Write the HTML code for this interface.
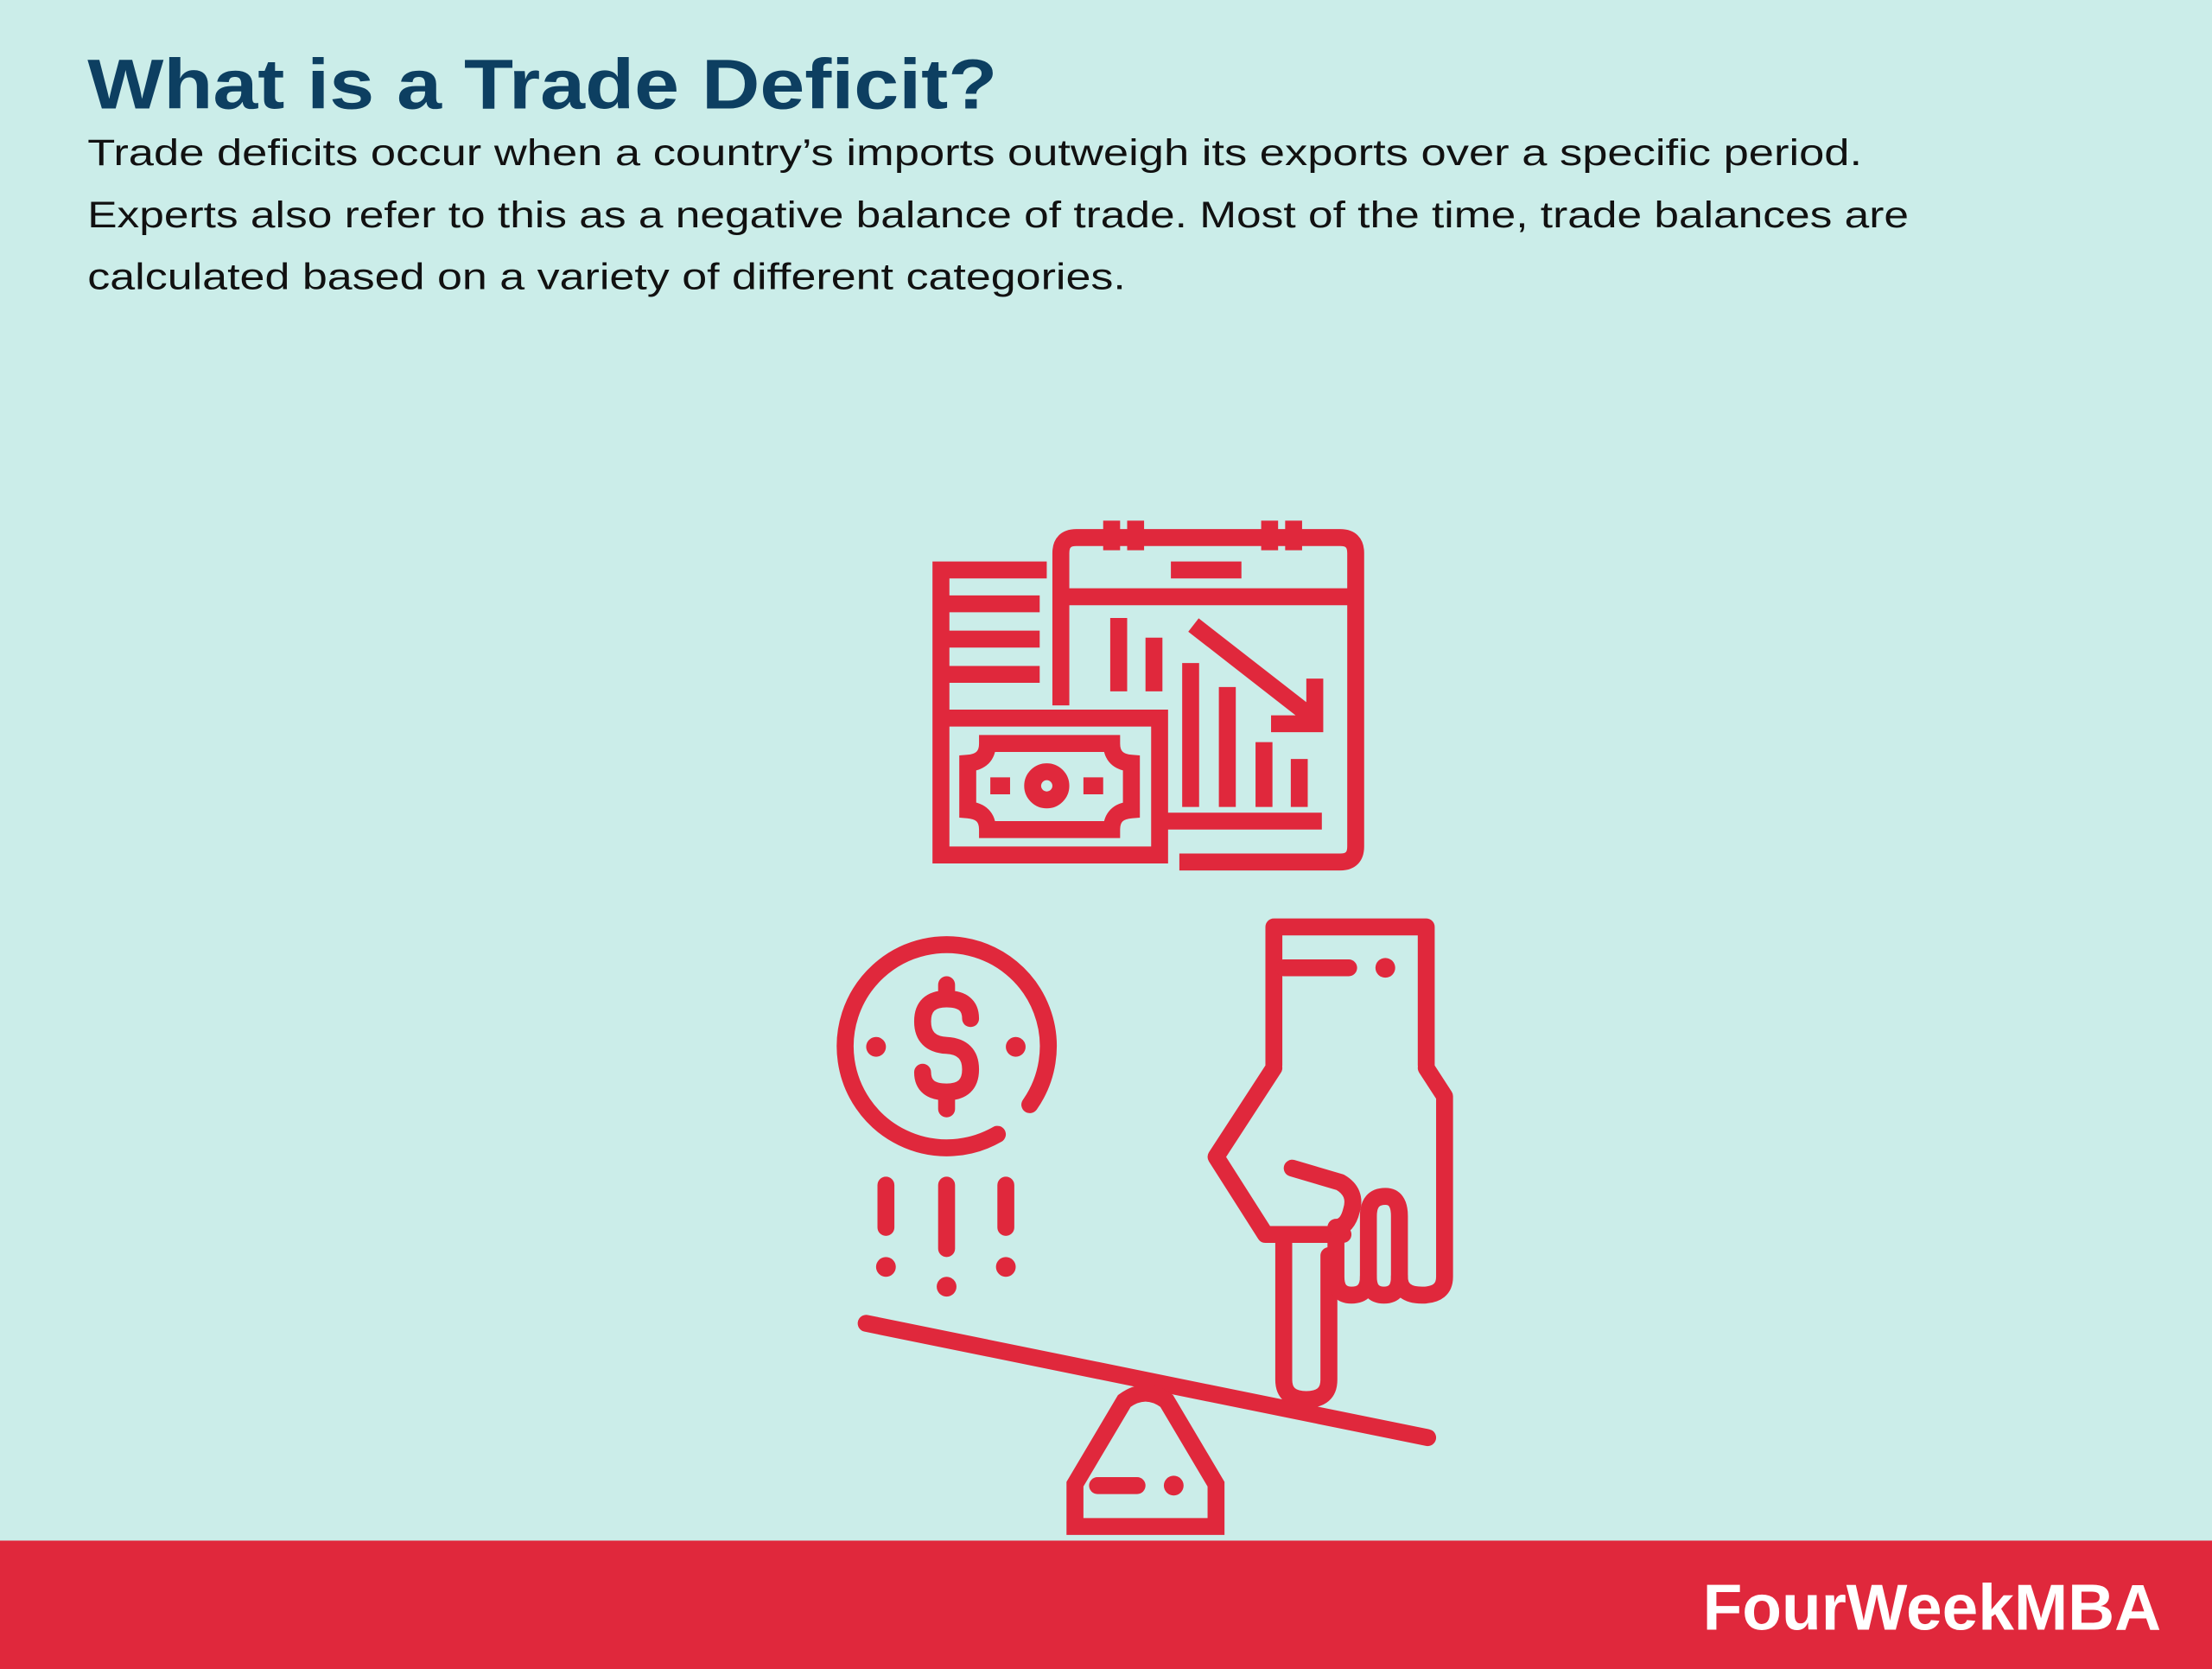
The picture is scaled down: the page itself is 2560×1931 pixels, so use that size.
<!DOCTYPE html>
<html><head><meta charset="utf-8"><style>
html,body{margin:0;padding:0;background:#cbede9;}
svg{display:block}
</style></head><body>
<svg width="2560" height="1931" viewBox="0 0 1568 1183" preserveAspectRatio="none" xmlns="http://www.w3.org/2000/svg">
<rect width="1568" height="1183" fill="#cbede9"/>
<text x="62" y="77" font-family="Liberation Sans, sans-serif" font-weight="bold" font-size="50" fill="#0d3f61" textLength="645" lengthAdjust="spacingAndGlyphs">What is a Trade Deficit?</text>
<g font-family="Liberation Sans, sans-serif" font-size="26" fill="#111">
<text x="62" y="117" textLength="1258" lengthAdjust="spacingAndGlyphs">Trade deficits occur when a country’s imports outweigh its exports over a specific period.</text>
<text x="62" y="161" textLength="1291" lengthAdjust="spacingAndGlyphs">Experts also refer to this as a negative balance of trade. Most of the time, trade balances are</text>
<text x="62" y="205" textLength="736" lengthAdjust="spacingAndGlyphs">calculated based on a variety of different categories.</text>
</g>
<g fill="none" stroke="#e0283c" stroke-width="12">
<g>
<path d="M742 404 H667 V606 H822 V509 H671"/>
<path d="M667 428 H737 M667 453 H737 M667 478 H737"/>
<path d="M700 527 H788 Q788 540 802 541 V574 Q788 575 788 588 H700 Q700 575 686 574 V541 Q700 540 700 527 Z"/>
<circle cx="742" cy="557" r="10"/>
<path d="M702 557 H716 M768 557 H782"/>
</g>
<g>
<path d="M752 500 V392 Q752 381 763 381 H950 Q961 381 961 392 V600 Q961 611 950 611 H836"/>
<path d="M752 423 H961 M788 369 V390 M805 369 V390 M900 369 V390 M917 369 V390 M830 404 H880"/>
<path d="M793 438 V490 M818 452 V490 M844 470 V572 M870 487 V572 M896 526 V572 M921 538 V572 M826 582 H937"/>
<path d="M846 443 L932 510 M932 481 V513 H901"/>
</g>
<g stroke-linecap="round">
<path d="M730 783 A72 72 0 1 0 707 804"/>
<path d="M688 722 Q688 708 671 708 Q654 708 654 724 Q654 740 671 741 Q688 742 688 758 Q688 774 671 774 Q654 774 654 760 M671 698 V708 M671 774 V786"/>
<path d="M628 840 V870 M671 840 V885 M713 840 V870"/>
</g>
<g stroke-linecap="round">
<path d="M614 938 L1012 1019"/>
<path d="M762 1082 V1052 L797 993 Q812 982 827 993 L862 1052 V1082 Z"/>
<path d="M778 1053 H806"/>
</g>
<g stroke-linejoin="round" stroke-linecap="round">
<path d="M903 755 V657 H1011 V755"/>
<path d="M910 686 H956"/>
<path d="M903 757 L862 820 L897 875 H952"/>
<path d="M910 875 V978 Q910 992 926 992 Q942 992 942 978 V890"/>
<path d="M1011 757 L1024 777 V905 Q1024 918 1008 918 Q992 918 992 905 V862 Q992 848 982 848 Q970 848 970 862 V905 Q970 918 958 918 Q947 918 947 905 V870"/>
<path d="M992 905 Q992 918 981 918 Q970 918 970 905"/>
<path d="M916 828 L950 838 Q962 845 958 858 Q955 870 947 870"/>
</g>
</g>
<g fill="#e0283c">
<circle cx="621" cy="742" r="7"/><circle cx="720" cy="742" r="7"/>
<circle cx="628" cy="898" r="7"/><circle cx="671" cy="912" r="7"/><circle cx="713" cy="898" r="7"/>
<circle cx="832" cy="1053" r="7"/><circle cx="982" cy="686" r="7"/>
</g>
<rect x="0" y="1092" width="1568" height="91" fill="#e0283c"/>
<text x="1207" y="1155" font-family="Liberation Sans, sans-serif" font-weight="bold" font-size="46" fill="#fff" textLength="325" lengthAdjust="spacingAndGlyphs">FourWeekMBA</text>
</svg>
</body></html>
